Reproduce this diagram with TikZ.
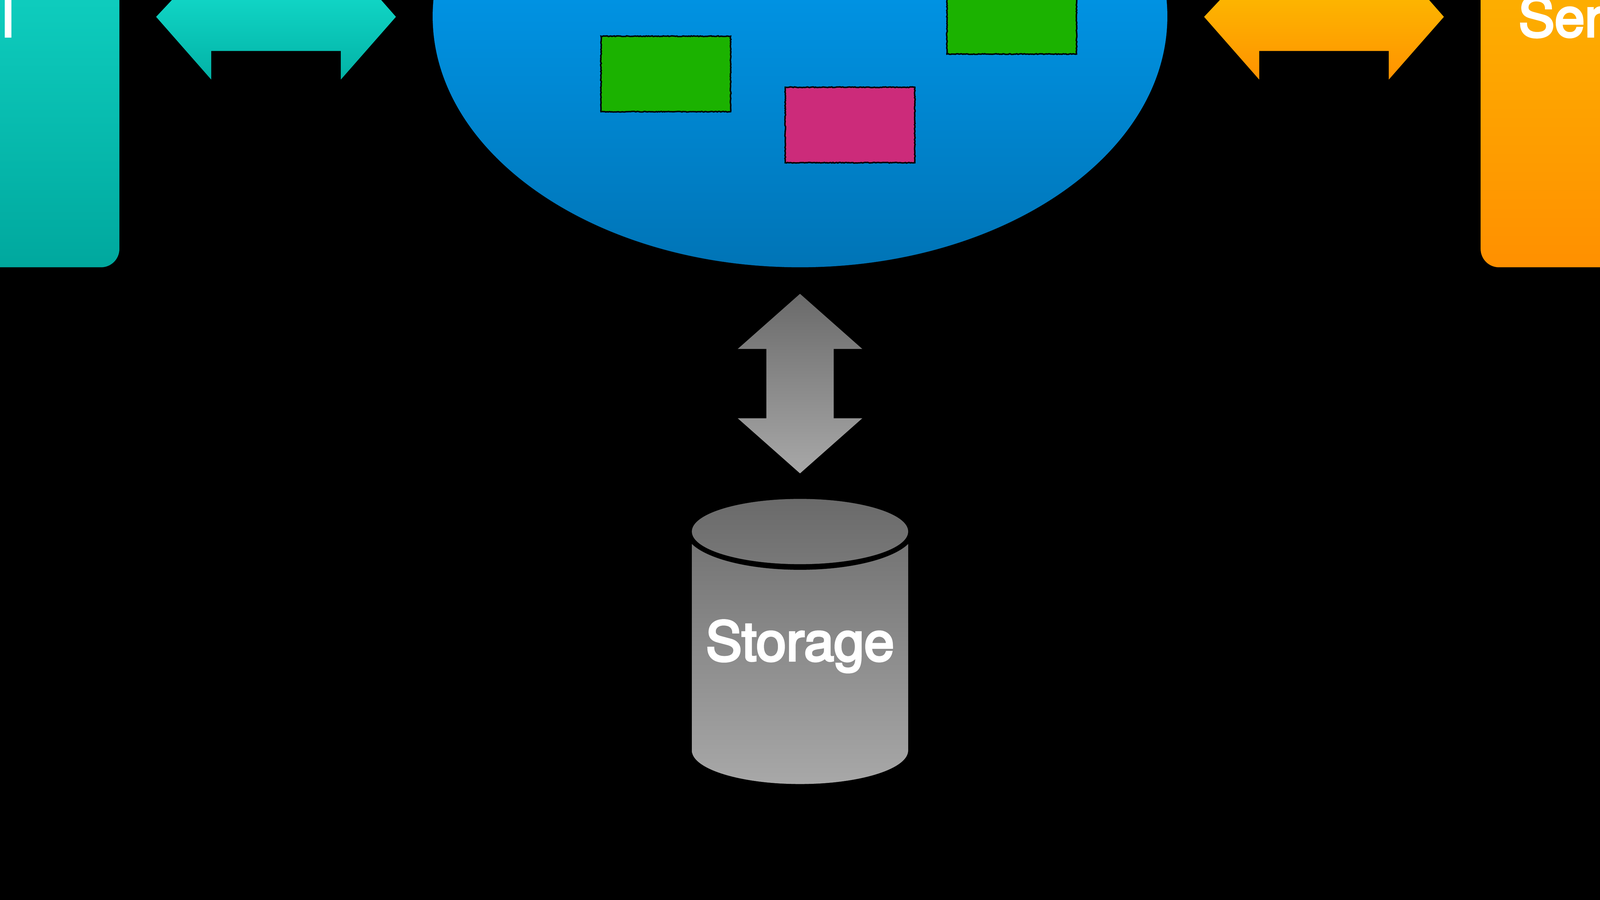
\documentclass[tikz,border=0pt]{standalone}
\usepackage{fontspec}
\usetikzlibrary{decorations.pathmorphing}
\setmainfont{TeX Gyre Heros}
\newfontfamily\medfont{TeX Gyre Heros}[FakeBold=4]
\definecolor{tealTop}{RGB}{16,210,194}
\definecolor{tealBot}{RGB}{0,168,158}
\definecolor{tealArrTop}{RGB}{16,212,196}
\definecolor{tealArrBot}{RGB}{2,178,166}
\definecolor{orgTop}{RGB}{253,178,0}
\definecolor{orgBot}{RGB}{255,144,0}
\definecolor{orgArrTop}{RGB}{253,180,0}
\definecolor{orgArrBot}{RGB}{255,146,0}
\definecolor{blueTop}{RGB}{0,146,226}
\definecolor{blueBot}{RGB}{0,116,182}
\definecolor{boxGreen}{RGB}{27,178,0}
\definecolor{boxPink}{RGB}{204,43,122}
\definecolor{arrGrayTop}{RGB}{106,106,106}
\definecolor{arrGrayBot}{RGB}{168,168,168}
\definecolor{cylTop}{RGB}{106,106,106}
\definecolor{cylMid}{RGB}{120,120,120}
\definecolor{cylBodyTop}{RGB}{114,114,114}
\definecolor{cylBot}{RGB}{168,168,168}
\begin{document}
\begin{tikzpicture}[x=1pt,y=-1pt,
  smallbox/.style={draw=black, line width=1.4pt, inner sep=0pt, minimum width=127pt, minimum height=74pt,
    decorate, decoration={random steps, segment length=1.2pt, amplitude=0.35pt}},
  lbl/.style={text=white, inner sep=0pt, font=\medfont\fontsize{53}{60}\selectfont}]
\useasboundingbox (0,0) rectangle (1568,882);
\fill[black] (0,0) rectangle (1568,882);
\clip (0,0) rectangle (1568,882);

% side boxes
\shade[top color=tealTop, bottom color=tealBot, rounded corners=18pt] (-40,-40) rectangle (117,262);
\shade[top color=orgTop, bottom color=orgBot, rounded corners=18pt] (1451,-40) rectangle (1640,262);
\node[lbl, anchor=base] (lefttext) at (8,35.8) {l};
\node[lbl, anchor=base west] (righttext) at (1488,35.8) {Ser};

% horizontal double arrows (lower part visible)
\shade[top color=tealArrTop, bottom color=tealArrBot]
  (168.5,0) -- (153,16.5) -- (207,78) -- (207,50) -- (334,50) -- (334,78) -- (388,16.5) -- (373.5,0) -- cycle;
\shade[top color=orgArrTop, bottom color=orgArrBot]
  (1195.5,0) -- (1180,16.5) -- (1234,78) -- (1234,50) -- (1361,50) -- (1361,78) -- (1415,16.5) -- (1400.5,0) -- cycle;

% blue ellipse
\begin{scope}
  \clip (784,16) ellipse [x radius=360, y radius=246];
  \shade[top color=blueTop, bottom color=blueBot] (420,0) rectangle (1150,263);
\end{scope}
\coordinate (cloud) at (784,262);

% small boxes
\node[smallbox, fill=boxGreen] (g1) at (652.5,72.5) {};
\node[smallbox, fill=boxPink] (p1) at (833,122.5) {};
\node[smallbox, fill=boxGreen] (g2) at (991.5,16) {};

% vertical gray double arrow
\shade[top color=arrGrayTop, bottom color=arrGrayBot]
  (784,288) -- (845,342) -- (817,342) -- (817,410) -- (845,410) -- (784,464)
  -- (723,410) -- (751,410) -- (751,342) -- (723,342) -- cycle;

% storage cylinder
\shade[top color=cylBodyTop, bottom color=cylBot]
  (678,521) -- (678,735.5) arc[start angle=180, end angle=0, x radius=106, y radius=33] -- (890,521) -- cycle;
\fill[black] (784,521) ellipse [x radius=112, y radius=37.5];
\shade[top color=cylTop, bottom color=cylMid] (784,521) ellipse [x radius=106, y radius=32];
\node[lbl, anchor=base] (storage) at (784,647.5) {Storage};
\end{tikzpicture}
\end{document}
